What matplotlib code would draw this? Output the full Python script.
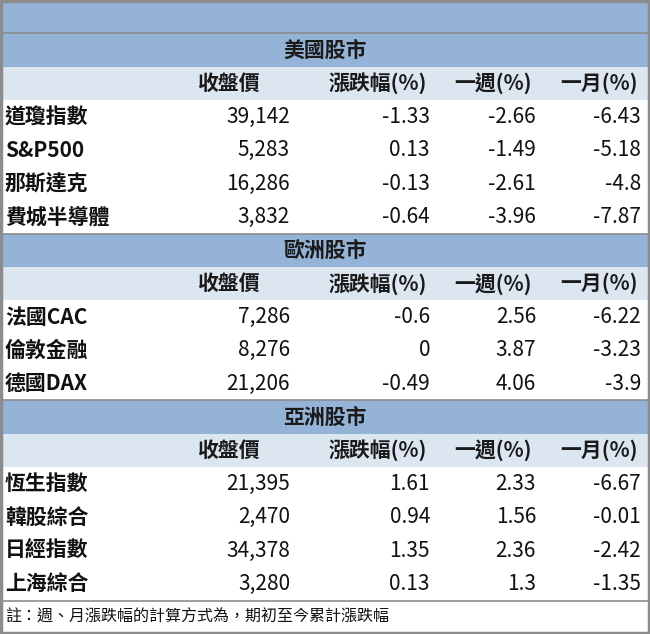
import matplotlib.pyplot as plt
from matplotlib.patches import Rectangle

plt.rcParams['font.family'] = ['Noto Sans CJK TC', 'DejaVu Sans']

columns = ['收盤價', '漲跌幅(%)', '一週(%)', '一月(%)']
sections = ['美國股市', '歐洲股市', '亞洲股市']
names = [
    ['道瓊指數', 'S&P500', '那斯達克', '費城半導體'],
    ['法國CAC', '倫敦金融', '德國DAX'],
    ['恆生指數', '韓股綜合', '日經指數', '上海綜合'],
]
prices = [
    ['39,142', '5,283', '16,286', '3,832'],
    ['7,286', '8,276', '21,206'],
    ['21,395', '2,470', '34,378', '3,280'],
]
daily = [
    ['-1.33', '0.13', '-0.13', '-0.64'],
    ['-0.6', '0', '-0.49'],
    ['1.61', '0.94', '1.35', '0.13'],
]
week = [
    ['-2.66', '-1.49', '-2.61', '-3.96'],
    ['2.56', '3.87', '4.06'],
    ['2.33', '1.56', '2.36', '1.3'],
]
month = [
    ['-6.43', '-5.18', '-4.8', '-7.87'],
    ['-6.22', '-3.23', '-3.9'],
    ['-6.67', '-0.01', '-2.42', '-1.35'],
]
note = '註：週、月漲跌幅的計算方式為，期初至今累計漲跌幅'

W, H = 650, 634
rh = H / 19
dark = '#95B3D7'
light = '#DCE6F1'
line = '#8C8C8C'
val_x = [290, 430, 536, 641]
head_x = [260, 427, 532, 638]

fig = plt.figure(figsize=(6.5, 6.34), dpi=100)
ax = fig.add_axes([0, 0, 1, 1])
ax.set_xlim(0, W)
ax.set_ylim(H, 0)
ax.axis('off')

def band(y, color):
    ax.add_patch(Rectangle((0, y), W, rh, color=color, lw=0))

y = 0
band(y, dark)
y += rh
for s in range(len(sections)):
    ax.axhline(y, color=line, lw=1.2)
    band(y, dark)
    ax.text(W / 2, y + rh / 2, sections[s], ha='center', va='center',
            fontsize=15, fontweight='bold', color='#1a1a1a')
    y += rh
    band(y, light)
    for c, cx in enumerate(head_x):
        ax.text(cx, y + rh / 2, columns[c], ha='right', va='center',
                fontsize=15, fontweight='bold', color='#1a1a1a')
    y += rh
    for i in range(len(names[s])):
        yc = y + rh / 2
        ax.text(5, yc, names[s][i], ha='left', va='center', fontsize=15,
                fontweight='bold', color='#111111')
        for cx, v in zip(val_x, [prices[s][i], daily[s][i], week[s][i], month[s][i]]):
            ax.text(cx, yc, v, ha='right', va='center', fontsize=15, color='#111111')
        y += rh
ax.axhline(y, color=line, lw=1.2)
ax.text(5, y + rh / 2, note, ha='left', va='center', fontsize=11.5, color='#111111')

ax.add_patch(Rectangle((1, 1), W - 2, H - 2, fill=False, ec=line, lw=2.5))

fig.savefig('out.png', dpi=100)
